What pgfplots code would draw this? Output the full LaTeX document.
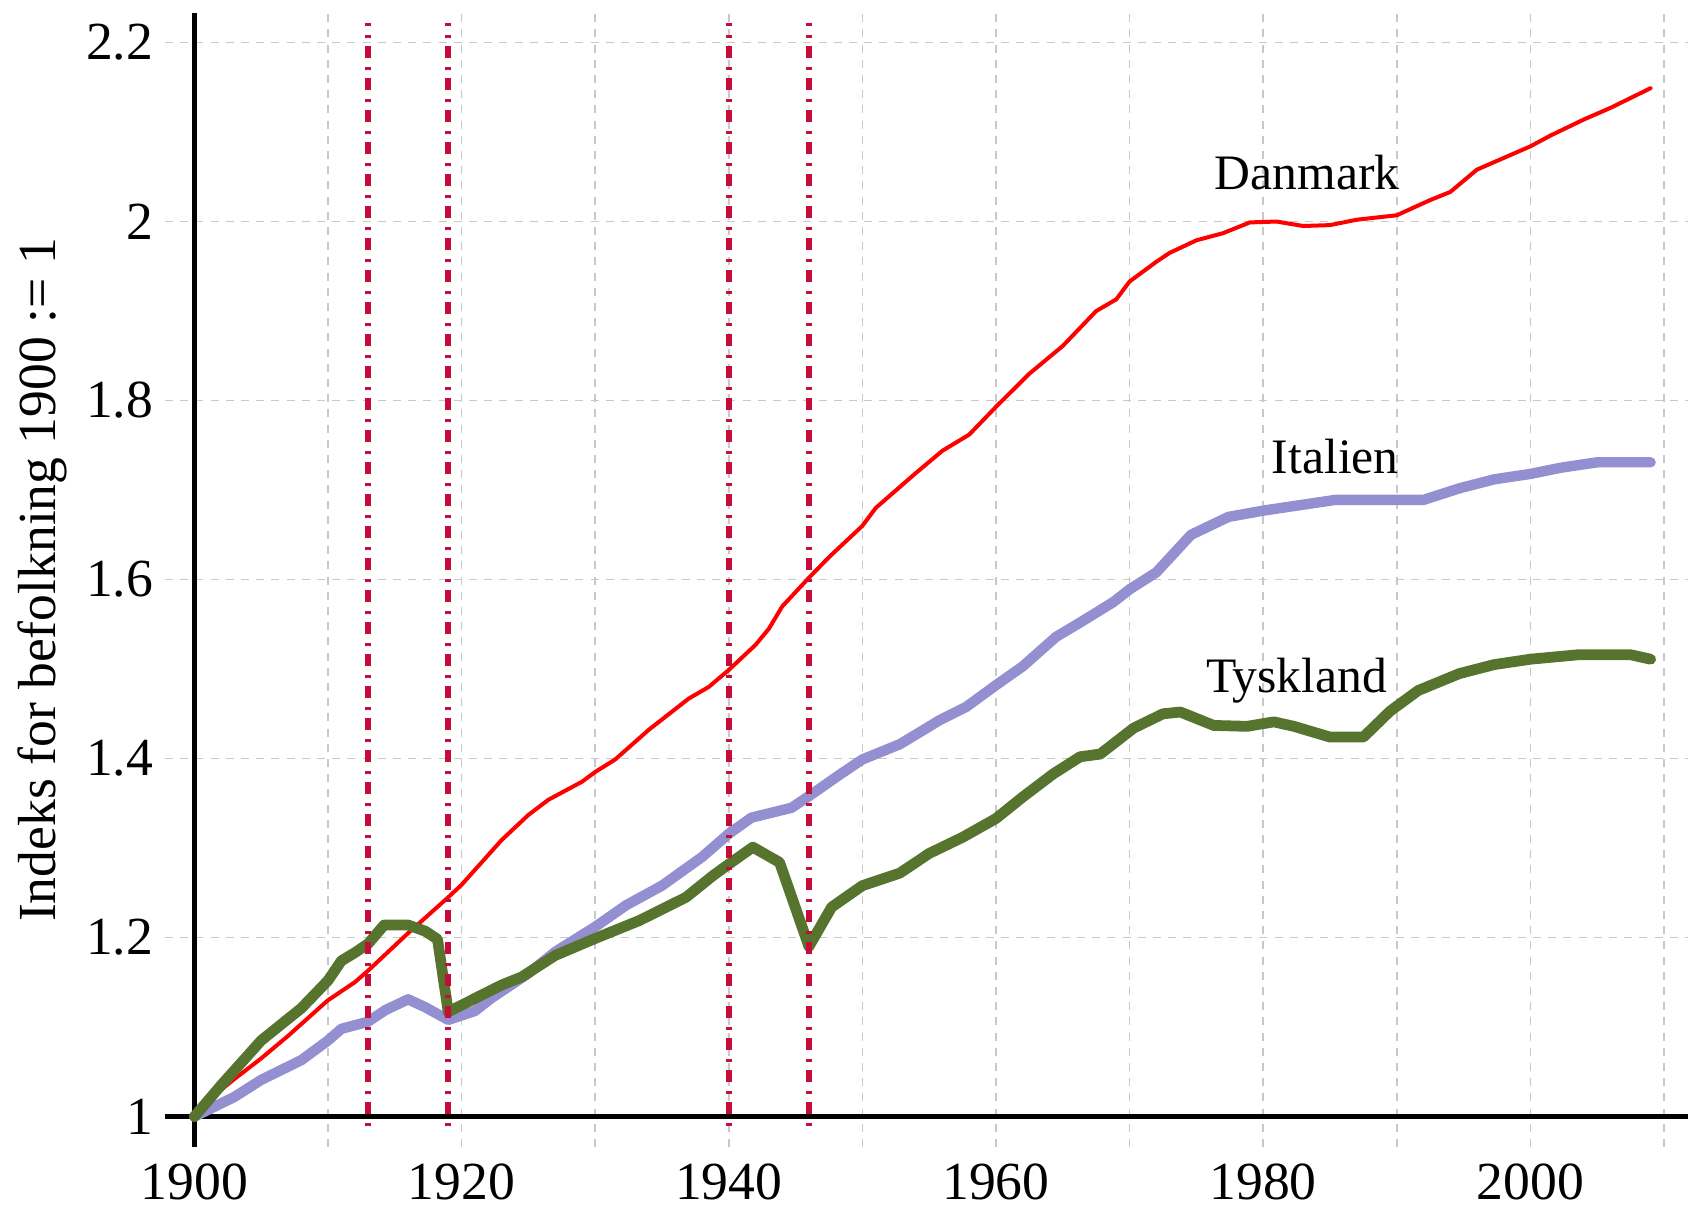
\documentclass[border=0pt]{standalone}
\usepackage{fontspec}
\setmainfont{Liberation Serif}
\usepackage{pgfplots}
\pgfplotsset{compat=1.18}

\definecolor{dkred}{RGB}{255,0,0}
\definecolor{lav}{RGB}{148,143,208}
\definecolor{dkgreen}{RGB}{86,116,45}
\definecolor{crim}{RGB}{198,12,58}
\definecolor{gridgray}{RGB}{200,200,200}

\newcommand{\bigfont}{\rmfamily\fontsize{13.4}{16}\selectfont}
\newcommand{\lblfont}{\rmfamily\fontsize{12.4}{15}\selectfont}

\begin{document}
\begin{tikzpicture}
\useasboundingbox (0,0) rectangle (422pt,302.25pt);
\begin{axis}[
    at={(41.25pt,15.5pt)}, anchor=south west,
    scale only axis, width=380.75pt, height=283.5pt,
    xmin=1897.8, xmax=2011.8, ymin=0.966, ymax=2.233,
    axis line style={draw=none},
    major tick length=0pt, minor tick length=0pt,
    xtick={1900,1920,1940,1960,1980,2000},
    xticklabels={1900,1920,1940,1960,1980,2000},
    minor xtick={1910,1930,1950,1970,1990,2010},
    ytick={1,1.2,1.4,1.6,1.8,2,2.2},
    yticklabels={1,1.2,1.4,1.6,1.8,2,2.2},
    xmajorgrids, xminorgrids, ymajorgrids,
    grid style={gridgray, line width=0.4pt, dash pattern=on 2pt off 1.8pt},
    minor grid style={gridgray, line width=0.4pt, dash pattern=on 2pt off 1.8pt},
    tick label style={font=\bigfont, inner sep=0pt},
    xticklabel style={yshift=-4pt},
    yticklabel style={xshift=-2.75pt},
    ylabel={\bigfont Indeks for befolkning 1900 := 1},
    every axis y label/.style={at={(axis description cs:-0.0722,0.5)}, rotate=90, anchor=base, font=\bigfont},
    every axis plot/.append style={line join=round, line cap=round},
]
% axis lines through (1900,1)
\addplot[black, line width=1.2pt, line cap=butt] coordinates {(1897.8,1) (2011.8,1)};
\addplot[black, line width=1.2pt, line cap=butt] coordinates {(1900,0.966) (1900,2.233)};

% Danmark
\addplot[dkred, line width=1pt] coordinates {
(1900,1.000) (1902,1.030) (1903,1.042) (1905,1.065) (1907,1.090) (1910,1.130)
(1912,1.150) (1913,1.163) (1916,1.205) (1919,1.245) (1920,1.259) (1923,1.309)
(1925,1.337) (1926.5,1.354) (1929,1.374) (1930,1.385) (1931.5,1.399) (1934,1.432)
(1937,1.467) (1938.5,1.480) (1940,1.499) (1942,1.527) (1943,1.545) (1944,1.570)
(1946,1.602) (1947.5,1.625) (1950,1.660) (1951,1.680) (1954,1.719) (1956,1.744)
(1958,1.762) (1960,1.793) (1962.5,1.830) (1965,1.861) (1967.5,1.900) (1969,1.913)
(1970,1.933) (1972,1.955) (1973,1.965) (1975,1.979) (1977,1.987) (1979,1.999)
(1981,2.000) (1983,1.995) (1985,1.996) (1987,2.002) (1990,2.007) (1992.5,2.024)
(1994,2.033) (1996,2.058) (1998,2.071) (2000,2.084) (2001.5,2.096) (2004,2.114)
(2006,2.127) (2009,2.149)
};

% Italien
\addplot[lav, line width=2.6pt] coordinates {
(1900,1.000) (1903,1.022) (1905,1.041) (1908,1.063) (1910,1.085) (1911,1.098)
(1913,1.106) (1914.3,1.119) (1916,1.131) (1917.3,1.122) (1919,1.108) (1921,1.118)
(1922.2,1.132) (1925,1.160) (1927,1.184) (1930,1.212) (1932.3,1.236) (1935,1.258)
(1938,1.290) (1940,1.316) (1941.7,1.334) (1944.7,1.345) (1946,1.358) (1948.3,1.382)
(1950,1.399) (1952.8,1.416) (1955.8,1.443) (1957.8,1.458) (1960,1.482) (1962,1.503)
(1964.5,1.536) (1966.3,1.552) (1968.8,1.575) (1970,1.589) (1972,1.608) (1974.6,1.650)
(1977.4,1.670) (1980,1.677) (1985.4,1.689) (1992,1.689) (1994.7,1.702) (1997.3,1.712)
(2000,1.718) (2002.3,1.725) (2005,1.731) (2009,1.731)
};

% Tyskland
\addplot[dkgreen, line width=2.7pt] coordinates {
(1900,1.000) (1902,1.035) (1905,1.085) (1908,1.121) (1910,1.152) (1911,1.174)
(1912,1.183) (1913,1.193) (1914.2,1.214) (1916,1.214) (1917.3,1.207) (1918.2,1.198)
(1919,1.117) (1921,1.132) (1923,1.147) (1924.5,1.156) (1927,1.180) (1930,1.199)
(1933.3,1.219) (1936.8,1.245) (1938.8,1.269) (1940,1.282) (1941.8,1.301) (1943.8,1.284)
(1946,1.190) (1947.7,1.234) (1950,1.258) (1952.8,1.272) (1955,1.294) (1957.5,1.312)
(1960,1.333) (1962,1.357) (1964.3,1.383) (1966.3,1.402) (1967.8,1.405) (1970.3,1.434)
(1972.5,1.450) (1973.8,1.452) (1976.3,1.437) (1978.8,1.436) (1980.8,1.441) (1982.3,1.436)
(1985,1.424) (1987.5,1.424) (1989.5,1.453) (1991.6,1.476) (1994.7,1.495) (1997.3,1.505)
(2000,1.511) (2003.6,1.516) (2007.5,1.516) (2009,1.511)
};

% war periods
\addplot[crim, line width=1.5pt, line cap=butt, dash pattern=on 0.6pt off 2.3pt on 3pt off 2.1pt] coordinates {(1913,0.99) (1913,2.222)};
\addplot[crim, line width=1.5pt, line cap=butt, dash pattern=on 0.6pt off 2.3pt on 3pt off 2.1pt] coordinates {(1919,0.99) (1919,2.222)};
\addplot[crim, line width=1.5pt, line cap=butt, dash pattern=on 0.6pt off 2.3pt on 3pt off 2.1pt] coordinates {(1940,0.99) (1940,2.222)};
\addplot[crim, line width=1.5pt, line cap=butt, dash pattern=on 0.6pt off 2.3pt on 3pt off 2.1pt] coordinates {(1946,0.99) (1946,2.222)};

\node[font=\lblfont, anchor=base] at (axis cs:1983.3,2.036) {Danmark};
\node[font=\lblfont, anchor=base] at (axis cs:1985.4,1.718) {Italien};
\node[font=\lblfont, anchor=base] at (axis cs:1982.5,1.474) {Tyskland};
\end{axis}
\end{tikzpicture}
\end{document}
